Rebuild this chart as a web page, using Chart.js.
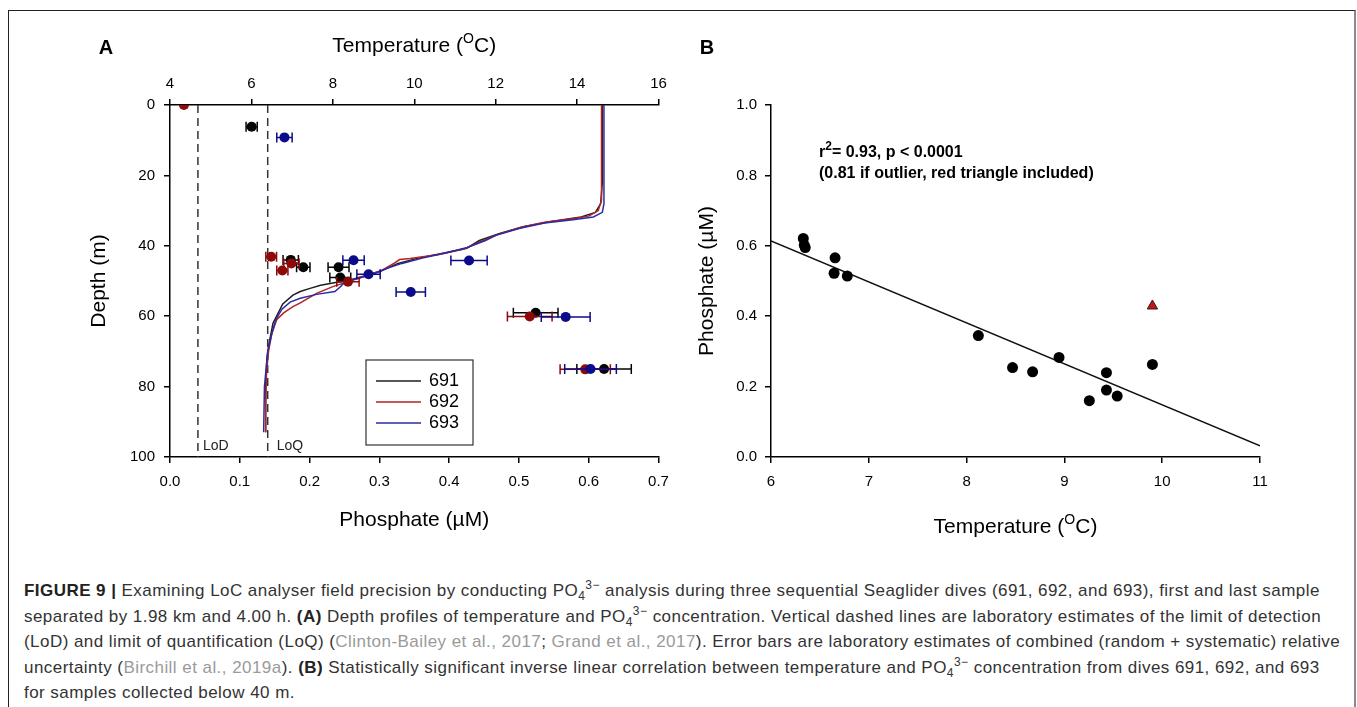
<!DOCTYPE html>
<html>
<head>
<meta charset="utf-8">
<script src="https://cdn.jsdelivr.net/npm/chart.js@4.4.0/dist/chart.umd.min.js"></script>
<style>
  body { margin: 0; background: #fff; width: 1357px; height: 707px; overflow: hidden; position: relative;
         font-family: "Liberation Sans", Arial, sans-serif; }
  #frame { position: absolute; left: 8px; top: 10px; width: 1345px; height: 720px;
           border-top: 1px solid #222; border-left: 1px solid #222; border-right: 2px solid #8a8a8a; }
  #chartA { position: absolute; left: 0; top: 0; }
  #chartB { position: absolute; left: 690px; top: 0; }
  #caption { position: absolute; left: 24px; top: 578px; font-size: 17px; letter-spacing: 0.45px;
             line-height: 25.5px; color: #333; white-space: nowrap; }
  #caption b { color: #222; }
  #caption .ref { color: #9a9a9a; }
  #caption sub, #caption sup { font-size: 12px; line-height: 0; }
</style>
</head>
<body>
<div id="frame"></div>
<canvas id="chartA" width="690" height="550"></canvas>
<canvas id="chartB" width="620" height="550"></canvas>
<div id="caption">
<b>FIGURE 9 |</b> Examining LoC analyser field precision by conducting PO<sub>4</sub><sup>3−</sup> analysis during three sequential Seaglider dives (691, 692, and 693), first and last sample<br>
separated by 1.98 km and 4.00 h. <b>(A)</b> Depth profiles of temperature and PO<sub>4</sub><sup>3−</sup> concentration. Vertical dashed lines are laboratory estimates of the limit of detection<br>
(LoD) and limit of quantification (LoQ) (<span class="ref">Clinton-Bailey et al., 2017</span>; <span class="ref">Grand et al., 2017</span>). Error bars are laboratory estimates of combined (random + systematic) relative<br>
uncertainty (<span class="ref">Birchill et al., 2019a</span>). <b>(B)</b> Statistically significant inverse linear correlation between temperature and PO<sub>4</sub><sup>3−</sup> concentration from dives 691, 692, and 693<br>
for samples collected below 40 m.
</div>
<script>
// ---- panel A: temperature profiles (depth in m, temperature in C) ----
const prof691Depth = [0, 22, 28, 30.5, 31.8, 33, 34.5, 36.5, 38.5, 40.7, 42.1, 43.5, 45, 47.3, 48.5, 49.7, 50.6, 51.2, 52.1, 53, 54, 56.5, 62, 66.7, 72, 80, 93];
const prof691Temp  = [14.62, 14.62, 14.58, 14.45, 14.1, 13.4, 12.7, 12.1, 11.6, 11.29, 10.7, 10.1, 9.6, 9.15, 8.8, 8.42, 8.0, 7.7, 7.44, 7.2, 7.02, 6.77, 6.53, 6.45, 6.38, 6.35, 6.35];
const prof692Depth = [0, 27, 30, 31.5, 32.3, 33.3, 34.8, 36.8, 39, 41, 42.5, 43.6, 43.9, 45, 47, 48.5, 49.7, 51.6, 53.5, 56.3, 57.3, 59, 61, 65, 70, 76, 85, 93];
const prof692Temp  = [14.6, 14.6, 14.52, 14.3, 13.9, 13.2, 12.6, 12.05, 11.6, 11.2, 10.6, 9.9, 9.64, 9.5, 9.2, 8.8, 8.5, 8.0, 7.6, 7.19, 7.02, 6.8, 6.62, 6.5, 6.42, 6.37, 6.35, 6.35];
const prof693Depth = [0, 28, 30.5, 31.8, 32.6, 33.5, 35, 37, 38.5, 40.5, 42, 43.5, 45, 46.3, 47.5, 49, 50.2, 51.5, 53, 53.8, 54.9, 56, 58, 61, 65, 70, 80, 93];
const prof693Temp  = [14.66, 14.66, 14.62, 14.4, 13.9, 13.2, 12.6, 12.0, 11.75, 11.3, 10.8, 10.2, 9.7, 9.35, 9.1, 8.7, 8.3, 8.2, 8.05, 7.6, 7.2, 6.95, 6.75, 6.6, 6.5, 6.4, 6.32, 6.3];

// ---- panel A: phosphate samples (uM), depth (m), error half-width (uM) ----
const po4_691   = [0.117, 0.173, 0.191, 0.2415, 0.244, 0.524, 0.622];
const depth_691 = [6.2, 44, 46.1, 46.1, 49, 59, 75];
const err_691   = [0.008, 0.011, 0.0096, 0.015, 0.015, 0.032, 0.039];
const po4_692   = [0.02, 0.145, 0.174, 0.161, 0.255, 0.5155, 0.595];
const depth_692 = [0, 43.1, 45, 47, 50.2, 60.1, 75.1];
const err_692   = [0, 0.0077, 0.011, 0.008, 0.016, 0.032, 0.036];
const po4_693   = [0.164, 0.263, 0.2845, 0.345, 0.4285, 0.567, 0.6026];
const depth_693 = [9.2, 44.1, 48.1, 53.1, 44.2, 60.2, 75];
const err_693   = [0.011, 0.0153, 0.0167, 0.021, 0.026, 0.035, 0.037];

const LOD = 0.04;
const LOQ = 0.14;
const diveLabels = ['691', '692', '693'];

// ---- panel B: temperature vs phosphate below 40 m ----
const tempB = [6.33, 6.34, 6.35, 6.655, 6.645, 6.78, 8.12, 8.47, 8.675, 8.945, 9.255, 9.43, 9.43, 9.54, 9.9];
const po4B  = [0.621, 0.602, 0.595, 0.566, 0.522, 0.514, 0.345, 0.254, 0.242, 0.283, 0.160, 0.2395, 0.190, 0.173, 0.263];
const outlierTemp = [9.9];
const outlierPo4  = [0.429];
const fitTemp = [6, 11];
const fitPo4  = [0.614, 0.032];

const FONT = '"Liberation Sans", Arial, sans-serif';
const LINE_COLORS  = ['#1e1e1e', '#b42222', '#2b2ba6'];
const POINT_COLORS = ['#050505', '#8c0a0a', '#0c0c8a'];

function pts(xs, ys) {
  return xs.map((x, i) => ({ x: x, y: ys[i] }));
}

// draws horizontal error bars right before each point dataset
const errorBars = {
  id: 'errorBars',
  beforeDatasetDraw(chart, args) {
    const ds = chart.data.datasets[args.index];
    if (!ds.errX) return;
    const ctx = chart.ctx;
    const xs = chart.scales[ds.xAxisID || 'x'];
    ctx.save();
    ctx.strokeStyle = ds.backgroundColor;
    ctx.lineWidth = 1.5;
    args.meta.data.forEach((el, i) => {
      const e = ds.errX[i];
      if (!e) return;
      const v = ds.data[i].x;
      const x0 = xs.getPixelForValue(v - e), x1 = xs.getPixelForValue(v + e);
      const y = el.y;
      ctx.beginPath();
      ctx.moveTo(x0, y); ctx.lineTo(x1, y);
      ctx.moveTo(x0, y - 5); ctx.lineTo(x0, y + 5);
      ctx.moveTo(x1, y - 5); ctx.lineTo(x1, y + 5);
      ctx.stroke();
    });
    ctx.restore();
  }
};

// text with one raised part: parts = [[text, isSup], ...]
function drawSupText(ctx, parts, x, y, size, supSize, weight, align) {
  let w = 0;
  parts.forEach(p => {
    ctx.font = weight + ' ' + (p[1] ? supSize : size) + 'px ' + FONT;
    w += ctx.measureText(p[0]).width;
  });
  let cx = align === 'center' ? x - w / 2 : x;
  ctx.textBaseline = 'alphabetic';
  ctx.textAlign = 'left';
  parts.forEach(p => {
    ctx.font = weight + ' ' + (p[1] ? supSize : size) + 'px ' + FONT;
    ctx.fillText(p[0], cx, p[1] ? y - size * 0.42 : y);
    cx += ctx.measureText(p[0]).width;
  });
}

const tempTitle = [['Temperature (', false], ['O', true], ['C)', false]];

const panelAText = {
  id: 'panelAText',
  afterDraw(chart) {
    const ctx = chart.ctx;
    const area = chart.chartArea;
    const xs = chart.scales.x;
    ctx.save();
    ctx.fillStyle = '#000';
    ctx.font = 'bold 20px ' + FONT;
    ctx.textAlign = 'center';
    ctx.textBaseline = 'middle';
    ctx.fillText('A', 106, 48);
    drawSupText(ctx, tempTitle, (area.left + area.right) / 2, 52, 21, 14, 'normal', 'center');

    // LoD / LoQ labels
    ctx.font = '14px ' + FONT;
    ctx.textAlign = 'left';
    ctx.textBaseline = 'middle';
    ctx.fillStyle = '#222';
    ctx.fillText('LoD', xs.getPixelForValue(LOD) + 5, area.bottom - 11);
    ctx.fillText('LoQ', xs.getPixelForValue(LOQ) + 9, area.bottom - 11);

    // legend box
    const bx = 366, by = 360, bw = 107, bh = 85;
    ctx.strokeStyle = '#333';
    ctx.lineWidth = 1.2;
    ctx.strokeRect(bx, by, bw, bh);
    ctx.font = '18px ' + FONT;
    ctx.fillStyle = '#000';
    diveLabels.forEach((lab, i) => {
      const y = by + 21 + i * 21;
      ctx.strokeStyle = LINE_COLORS[i];
      ctx.lineWidth = 1.5;
      ctx.beginPath();
      ctx.moveTo(bx + 10, y); ctx.lineTo(bx + 55, y);
      ctx.stroke();
      ctx.fillText(lab, bx + 63, y);
    });
    ctx.restore();
  }
};

const panelBText = {
  id: 'panelBText',
  afterDraw(chart) {
    const ctx = chart.ctx;
    const area = chart.chartArea;
    ctx.save();
    ctx.fillStyle = '#000';
    ctx.font = 'bold 20px ' + FONT;
    ctx.textAlign = 'center';
    ctx.textBaseline = 'middle';
    ctx.fillText('B', 17, 48);
    drawSupText(ctx, tempTitle, (area.left + area.right) / 2, 533, 21, 14, 'normal', 'center');
    drawSupText(ctx, [['r', false], ['2', true], ['= 0.93, p < 0.0001', false]], 129, 157, 16, 12, 'bold', 'left');
    ctx.font = 'bold 16px ' + FONT;
    ctx.fillText('(0.81 if outlier, red triangle included)', 129, 178);
    ctx.restore();
  }
};

function axisOpts(extra) {
  const base = {
    type: 'linear',
    ticks: { font: { family: FONT, size: 15 }, color: '#000', padding: 8 },
    grid: { drawOnChartArea: false, drawTicks: true, tickLength: 6, color: '#000', lineWidth: 1.5 },
    border: { display: true, color: '#000', width: 1.5 }
  };
  Object.keys(extra).forEach(k => {
    base[k] = (typeof extra[k] === 'object' && base[k]) ? Object.assign({}, base[k], extra[k]) : extra[k];
  });
  return base;
}

// ---- Panel A ----
const pointSets = [
  { po4: po4_693, depth: depth_693, err: err_693, c: POINT_COLORS[2] },
  { po4: po4_692, depth: depth_692, err: err_692, c: POINT_COLORS[1] },
  { po4: po4_691, depth: depth_691, err: err_691, c: POINT_COLORS[0] }
];
const profiles = [
  { d: prof693Depth, t: prof693Temp, c: LINE_COLORS[2] },
  { d: prof692Depth, t: prof692Temp, c: LINE_COLORS[1] },
  { d: prof691Depth, t: prof691Temp, c: LINE_COLORS[0] }
];

const datasetsA = [];
pointSets.forEach(s => {
  datasetsA.push({
    data: pts(s.po4, s.depth), xAxisID: 'x', errX: s.err,
    backgroundColor: s.c, borderColor: s.c, borderWidth: 0, pointRadius: 5
  });
});
profiles.forEach(p => {
  datasetsA.push({
    data: pts(p.t, p.d), xAxisID: 'x2', showLine: true,
    borderColor: p.c, borderWidth: 1.5, pointRadius: 0, tension: 0
  });
});
[LOD, LOQ].forEach(v => {
  datasetsA.push({
    data: pts([v, v], [0, 100]), xAxisID: 'x', showLine: true,
    borderColor: '#333', borderWidth: 1.5, borderDash: [8, 5], pointRadius: 0
  });
});

new Chart(document.getElementById('chartA'), {
  type: 'scatter',
  data: { datasets: datasetsA },
  options: {
    responsive: false,
    animation: false,
    layout: { padding: { left: 0, right: 31.5, top: 0, bottom: 0 } },
    plugins: { legend: { display: false }, tooltip: { enabled: false } },
    scales: {
      x: axisOpts({
        position: 'bottom', min: 0, max: 0.7,
        ticks: { stepSize: 0.1, callback: v => v.toFixed(1), padding: 10 },
        title: { display: true, text: 'Phosphate (µM)', color: '#000', font: { family: FONT, size: 21 }, padding: { top: 0, bottom: 17 } },
        afterFit: s => { s.height = 93; }
      }),
      x2: axisOpts({
        position: 'top', min: 4, max: 16,
        ticks: { stepSize: 2, padding: 6 },
        afterFit: s => { s.height = 105; }
      }),
      y: axisOpts({
        position: 'left', min: 0, max: 100, reverse: true,
        ticks: { stepSize: 20, padding: 9 },
        title: { display: true, text: 'Depth (m)', color: '#000', font: { family: FONT, size: 21 }, padding: { top: 87, bottom: 0 } },
        afterFit: s => { s.width = 170; }
      })
    }
  },
  plugins: [errorBars, panelAText]
});

// ---- Panel B ----
new Chart(document.getElementById('chartB'), {
  type: 'scatter',
  data: {
    datasets: [
      { data: pts(outlierTemp, outlierPo4), pointStyle: 'triangle', pointRadius: 6,
        backgroundColor: '#cc1111', borderColor: '#222', borderWidth: 1 },
      { data: pts(tempB, po4B), pointRadius: 5.5, backgroundColor: '#000', borderColor: '#000', borderWidth: 0 },
      { data: pts(fitTemp, fitPo4), showLine: true, pointRadius: 0, borderColor: '#111', borderWidth: 1.5 }
    ]
  },
  options: {
    responsive: false,
    animation: false,
    layout: { padding: { left: 0, right: 50, top: 105, bottom: 0 } },
    plugins: { legend: { display: false }, tooltip: { enabled: false } },
    scales: {
      x: axisOpts({
        position: 'bottom', min: 6, max: 11,
        ticks: { stepSize: 1, padding: 10 },
        afterFit: s => { s.height = 93; }
      }),
      y: axisOpts({
        position: 'left', min: 0, max: 1.0,
        ticks: { stepSize: 0.2, callback: v => v.toFixed(1), padding: 8 },
        title: { display: true, text: 'Phosphate (µM)', color: '#000', font: { family: FONT, size: 21 }, padding: { top: 5, bottom: 0 } },
        afterFit: s => { s.width = 81; }
      })
    }
  },
  plugins: [panelBText]
});
</script>
</body>
</html>
